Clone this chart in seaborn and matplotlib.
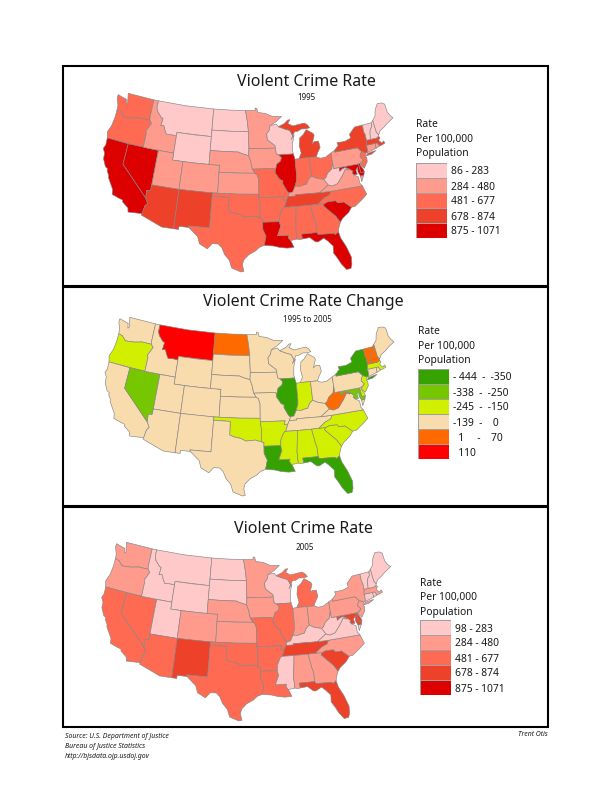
import numpy as np
import pandas as pd
import seaborn as sns
import matplotlib
matplotlib.use('Agg')
import matplotlib.pyplot as plt
from matplotlib.collections import PolyCollection
from matplotlib.colors import ListedColormap
from matplotlib.patches import Rectangle

# class index of each state, one list per map (0 = first legend row)
STATES = ['WA','OR','CA','NV','ID','MT','WY','UT','CO','AZ','NM','ND','SD','NE','KS','OK','TX',
          'MN','IA','MO','AR','LA','WI','IL','MI','IN','OH','KY','TN','MS','AL','GA','FL','SC',
          'NC','VA','WV','MD','DE','PA','NJ','NY','CT','RI','MA','VT','NH','ME']
RATE_1995 = [2,2,4,4,1,0,0,1,1,3,3,0,0,1,1,2,2,
             1,1,2,2,4,0,4,3,2,2,1,3,2,2,2,4,4,
             2,1,0,4,4,1,2,3,1,1,3,0,0,0]
CHANGE = [3,2,3,1,3,5,3,3,3,3,3,4,3,3,3,2,3,
          3,3,3,2,0,3,0,3,2,3,3,3,2,2,2,0,2,
          2,3,4,1,2,3,2,0,3,3,2,4,4,3]
RATE_2005 = [1,1,2,2,0,0,0,0,1,2,3,0,0,1,1,2,2,
             1,1,2,2,2,0,2,2,1,1,0,3,0,1,1,3,3,
             1,0,0,3,3,1,1,1,0,0,1,0,0,0]

RATE_COLORS = ['#ffc9c9', '#ff9b8c', '#ff6b52', '#ee412a', '#dc0000']
CHANGE_COLORS = ['#36a200', '#76c600', '#d2ef00', '#f9dcae', '#ff6a00', '#ff0000']
LABELS_1995 = ['86 - 283', '284 - 480', '481 - 677', '678 - 874', '875 - 1071']
LABELS_2005 = ['98 - 283', '284 - 480', '481 - 677', '678 - 874', '875 - 1071']
LABELS_CHANGE = ['- 444  -  -350', '-338  -  -250', '-245  -  -150', '-139  -    0',
                 '  1     -    70', '  110']

# base map: simplified state outlines in lon/lat (no shapefile available here)
OUTLINES = {
 'WA': [[(-124.7,48.4),(-123.2,48.15),(-122.75,48.1),(-122.5,47.4),(-122.3,47.6),(-122.5,48.3),(-122.75,49),(-117.03,49),(-117.04,46.42),(-116.92,45.99),(-118.98,46),(-119.3,45.93),(-120.5,45.7),(-121.2,45.65),(-122.3,45.55),(-122.8,45.9),(-123.2,46.15),(-124,46.27),(-124.1,46.9),(-124.7,47.9)]],
 'OR': [[(-124,46.27),(-123.2,46.15),(-122.8,45.9),(-122.3,45.55),(-121.2,45.65),(-120.5,45.7),(-119.3,45.93),(-118.98,46),(-116.92,45.99),(-116.46,45.6),(-116.85,44.95),(-117.22,44.4),(-117.03,44),(-117.03,42),(-124.21,42),(-124.55,42.84),(-124.1,43.9),(-123.95,45.2)]],
 'CA': [[(-124.21,42),(-120,42),(-120,39),(-114.63,35),(-114.13,34.3),(-114.5,33.9),(-114.72,32.72),(-117.12,32.53),(-117.3,33.1),(-118.4,33.75),(-118.5,34.03),(-119.2,34.15),(-120.5,34.45),(-120.65,35.15),(-121.9,36.6),(-122,36.95),(-122.5,37.5),(-122.5,37.8),(-123,38),(-123.75,39),(-123.85,39.8),(-124.35,40.4),(-124.1,41)]],
 'NV': [[(-120,42),(-114.04,42),(-114.04,36.2),(-114.75,36.1),(-114.63,35),(-120,39)]],
 'ID': [[(-117.03,49),(-116.05,49),(-116.05,48),(-115.7,47.45),(-114.7,46.7),(-114.35,46.65),(-114.5,45.55),(-113.9,45.65),(-113.45,44.95),(-113,44.45),(-112,44.55),(-111.05,44.48),(-111.05,42),(-117.03,42),(-117.03,44),(-117.22,44.4),(-116.85,44.95),(-116.46,45.6),(-116.92,45.99),(-117.04,46.42)]],
 'MT': [[(-116.05,49),(-110,49),(-104.05,49),(-104.05,45),(-111.05,45),(-111.05,44.48),(-112,44.55),(-113,44.45),(-113.45,44.95),(-113.9,45.65),(-114.5,45.55),(-114.35,46.65),(-114.7,46.7),(-115.7,47.45),(-116.05,48)]],
 'WY': [[(-111.05,45),(-107.5,45),(-104.05,45),(-104.05,41),(-107.5,41),(-111.05,41)]],
 'UT': [[(-114.04,42),(-111.05,42),(-111.05,41),(-109.05,41),(-109.05,37),(-114.04,37)]],
 'CO': [[(-109.05,41),(-105.5,41),(-102.05,41),(-102.05,37),(-105.5,37),(-109.05,37)]],
 'AZ': [[(-114.04,37),(-109.05,37),(-109.05,31.33),(-111.07,31.33),(-114.81,32.5),(-114.72,32.72),(-114.5,33.9),(-114.13,34.3),(-114.63,35),(-114.75,36.1),(-114.04,36.2)]],
 'NM': [[(-109.05,37),(-103,37),(-103.05,32),(-106.62,32),(-106.53,31.78),(-108.2,31.78),(-108.2,31.33),(-109.05,31.33)]],
 'ND': [[(-104.05,49),(-100.5,49),(-97.23,49),(-96.85,47.6),(-96.56,45.94),(-100.5,45.94),(-104.05,45.94)]],
 'SD': [[(-104.05,45.94),(-100.5,45.94),(-96.56,45.94),(-96.56,45.3),(-96.45,43.5),(-96.5,42.5),(-97.9,42.8),(-98.5,43),(-101.5,43),(-104.05,43)]],
 'NE': [[(-104.05,43),(-101.5,43),(-98.5,43),(-97.9,42.8),(-96.5,42.5),(-96.1,41.7),(-95.85,40.7),(-95.31,40),(-98.5,40),(-102.05,40),(-102.05,41),(-104.05,41)]],
 'KS': [[(-102.05,40),(-98.5,40),(-95.31,40),(-94.9,39.8),(-94.61,39.1),(-94.62,37),(-98.5,37),(-102.05,37)]],
 'OK': [[(-103,37),(-98.5,37),(-94.62,37),(-94.43,35.4),(-94.48,33.64),(-95.5,33.9),(-97.15,33.75),(-98.1,34.13),(-99.2,34.3),(-100,34.56),(-100,36.5),(-103,36.5)]],
 'TX': [[(-106.62,32),(-103.05,32),(-103,36.5),(-100,36.5),(-100,34.56),(-99.2,34.3),(-98.1,34.13),(-97.15,33.75),(-95.5,33.9),(-94.48,33.64),(-94.04,33.55),(-94.04,32),(-93.52,31),(-93.85,29.7),(-94.7,29.4),(-95.3,28.9),(-96.4,28.35),(-97.2,27.6),(-97.4,26.9),(-97.15,25.96),(-97.6,25.85),(-99.1,26.4),(-99.5,27.5),(-100.3,28.3),(-100.8,29.25),(-101.4,29.77),(-102.4,29.77),(-103.15,28.98),(-104.5,29.6),(-104.9,30.6),(-106.53,31.78)]],
 'MN': [[(-97.23,49),(-95.15,49),(-95.15,49.38),(-94.8,49.3),(-94.6,48.72),(-93,48.55),(-91.5,48.07),(-89.6,48),(-90.8,47.3),(-92.1,46.75),(-92.3,46.1),(-92.85,45.6),(-92.75,44.75),(-91.25,43.85),(-91.22,43.5),(-96.45,43.5),(-96.56,45.3),(-96.56,45.94),(-96.85,47.6)]],
 'IA': [[(-96.45,43.5),(-91.22,43.5),(-91.1,42.7),(-90.64,42.5),(-90.15,42.1),(-90.35,41.6),(-91.1,41.2),(-91.42,40.38),(-91.73,40.61),(-95.77,40.58),(-96.1,41.7),(-96.5,42.5)]],
 'MO': [[(-95.77,40.58),(-91.73,40.61),(-91.42,40.38),(-91.5,40),(-90.7,39),(-90.15,38.8),(-90.2,38.4),(-89.5,37.3),(-89.15,37),(-89.4,36.5),(-89.7,36),(-90.37,36),(-90.15,36.5),(-94.62,36.5),(-94.62,37),(-94.61,39.1),(-94.9,39.8),(-95.31,40)]],
 'AR': [[(-94.62,36.5),(-90.15,36.5),(-90.37,36),(-89.7,36),(-90.1,35.1),(-90.6,34.7),(-91.1,33.8),(-91.17,33),(-94.04,33),(-94.04,33.55),(-94.48,33.64),(-94.43,35.4)]],
 'LA': [[(-94.04,33),(-91.17,33),(-91,32.3),(-91.6,31),(-89.73,31),(-89.85,30.67),(-89.5,30.2),(-89.4,30.05),(-89,29.2),(-90.1,29.15),(-91.3,29.3),(-92.3,29.55),(-93.85,29.7),(-93.52,31),(-94.04,32)]],
 'WI': [[(-92.1,46.75),(-90.8,46.95),(-90.4,46.55),(-89.1,46.15),(-88.1,45.9),(-87.6,45.1),(-88,44.55),(-87.3,45.2),(-87.75,44.1),(-87.9,43),(-87.8,42.5),(-90.64,42.5),(-91.1,42.7),(-91.22,43.5),(-91.25,43.85),(-92.75,44.75),(-92.85,45.6),(-92.3,46.1)]],
 'IL': [[(-90.64,42.5),(-87.8,42.5),(-87.55,41.7),(-87.53,39.35),(-87.6,38.7),(-88.05,37.8),(-88.5,37.1),(-89.15,37),(-89.5,37.3),(-90.2,38.4),(-90.15,38.8),(-90.7,39),(-91.5,40),(-91.42,40.38),(-91.1,41.2),(-90.35,41.6),(-90.15,42.1)]],
 'MI': [[(-86.8,41.76),(-84.8,41.76),(-83.45,41.73),(-83.1,42.25),(-82.45,43),(-82.6,43.9),(-83.4,43.95),(-83.9,43.65),(-83.3,44.8),(-83.45,45.1),(-84.75,45.78),(-85.5,45.1),(-86.25,44.7),(-86.5,43.6),(-86.25,42.5)],
        [(-90.4,46.55),(-89.1,46.95),(-88.4,47.4),(-87.9,47.45),(-88.4,46.9),(-87.4,46.5),(-86.1,46.65),(-85,46.75),(-84.4,46.45),(-84,46),(-84.75,45.9),(-85.7,45.95),(-86.6,45.65),(-87.1,45.7),(-87.6,45.1),(-88.1,45.9),(-89.1,46.15)]],
 'IN': [[(-87.55,41.7),(-87.2,41.75),(-86.8,41.76),(-84.8,41.76),(-84.8,39.1),(-85.4,38.7),(-85.9,38),(-86.5,37.95),(-87.1,37.8),(-87.9,37.9),(-88.05,37.8),(-87.6,38.7),(-87.53,39.35)]],
 'OH': [[(-84.8,41.76),(-83.45,41.73),(-82.7,41.45),(-81.7,41.5),(-80.52,41.98),(-80.52,40.64),(-80.85,39.7),(-81.75,39.2),(-82.2,38.6),(-82.6,38.4),(-83.7,38.63),(-84.2,38.8),(-84.8,39.1)]],
 'KY': [[(-89.4,36.5),(-89.15,37),(-88.5,37.1),(-88.05,37.8),(-87.9,37.9),(-87.1,37.8),(-86.5,37.95),(-85.9,38),(-85.4,38.7),(-84.8,39.1),(-84.2,38.8),(-83.7,38.63),(-82.6,38.4),(-81.97,37.54),(-83.68,36.6),(-88.07,36.68),(-88.05,36.5)]],
 'TN': [[(-90.1,35.1),(-89.7,36),(-89.4,36.5),(-88.05,36.5),(-88.07,36.68),(-83.68,36.6),(-81.68,36.59),(-82,36.1),(-83.1,35.75),(-84.32,35),(-85.6,35),(-88.2,35),(-90.3,35)]],
 'MS': [[(-90.3,35),(-88.2,35),(-88.1,34.9),(-88.47,31.9),(-88.4,30.35),(-89.5,30.2),(-89.85,30.67),(-89.73,31),(-91.6,31),(-91,32.3),(-91.17,33),(-91.1,33.8),(-90.6,34.7)]],
 'AL': [[(-88.2,35),(-85.6,35),(-85.18,32.87),(-85,32.3),(-85,31),(-87.6,31),(-87.5,30.3),(-88,30.25),(-88.4,30.35),(-88.47,31.9),(-88.1,34.9)]],
 'GA': [[(-85.6,35),(-84.32,35),(-83.1,35),(-83.35,34.7),(-82.6,34),(-81.5,33),(-80.87,32.03),(-81.3,31.2),(-81.45,30.7),(-82.05,30.36),(-82.2,30.57),(-84.86,30.7),(-85,31),(-85,32.3),(-85.18,32.87)]],
 'FL': [[(-87.6,31),(-85,31),(-84.86,30.7),(-82.2,30.57),(-82.05,30.36),(-81.45,30.7),(-81.25,29.8),(-80.55,28.4),(-80.03,26.8),(-80.15,25.75),(-80.4,25.2),(-81.1,25.15),(-81.8,26.1),(-82.2,26.9),(-82.75,27.8),(-82.65,28.8),(-83.4,29.6),(-84,30.1),(-85,29.65),(-85.4,29.7),(-86.3,30.4),(-87.5,30.3)]],
 'SC': [[(-83.1,35),(-82.4,35.2),(-81.05,35.15),(-80.8,34.82),(-79.7,34.8),(-78.55,33.86),(-79.2,33.2),(-80.4,32.5),(-80.87,32.03),(-81.5,33),(-82.6,34),(-83.35,34.7)]],
 'NC': [[(-84.32,35),(-83.1,35.75),(-82,36.1),(-81.68,36.59),(-75.95,36.55),(-75.5,35.25),(-76.5,34.65),(-77.9,33.9),(-78.55,33.86),(-79.7,34.8),(-80.8,34.82),(-81.05,35.15),(-82.4,35.2),(-83.1,35)]],
 'VA': [[(-83.68,36.6),(-81.97,37.54),(-81.3,37.3),(-80.3,37.5),(-79.3,38.4),(-78.9,38.8),(-78.35,39.4),(-77.83,39.14),(-77.7,39.3),(-77.05,38.85),(-77.25,38.6),(-77,38.3),(-76.3,37.9),(-76.3,37),(-75.95,36.55),(-81.68,36.59)],
        [(-75.9,37.95),(-75.25,38.03),(-75.9,37.15)]],
 'WV': [[(-82.6,38.4),(-82.2,38.6),(-81.75,39.2),(-80.85,39.7),(-80.52,40.64),(-80.52,39.72),(-79.48,39.72),(-79.48,39.2),(-79,39.47),(-78.4,39.6),(-77.7,39.3),(-77.83,39.14),(-78.35,39.4),(-78.9,38.8),(-79.3,38.4),(-80.3,37.5),(-81.3,37.3),(-81.97,37.54)]],
 'MD': [[(-79.48,39.72),(-75.79,39.72),(-75.7,38.46),(-75.05,38.45),(-75.25,38.03),(-75.9,37.95),(-76.2,38.6),(-76.1,39.3),(-76.5,38.9),(-76.4,38.3),(-77,38.3),(-77.25,38.6),(-77.05,38.85),(-77.7,39.3),(-78.4,39.6),(-79,39.47),(-79.48,39.2)]],
 'DE': [[(-75.79,39.72),(-75.4,39.8),(-75.55,39.5),(-75.1,38.8),(-75.05,38.45),(-75.7,38.46)]],
 'PA': [[(-80.52,41.98),(-79.76,42.27),(-79.76,42),(-75.35,42),(-74.7,41.36),(-75.1,40.9),(-75.2,40.65),(-74.72,40.15),(-75.4,39.8),(-75.79,39.72),(-80.52,39.72),(-80.52,40.64)]],
 'NJ': [[(-74.7,41.36),(-73.95,41),(-74.2,40.5),(-74,40.4),(-74.1,39.75),(-74.9,38.95),(-75.5,39.5),(-74.72,40.15),(-75.2,40.65),(-75.1,40.9)]],
 'NY': [[(-79.76,42.27),(-78.9,42.85),(-79.05,43.27),(-77.5,43.25),(-76.2,43.55),(-76.3,44.1),(-75,44.98),(-73.35,45),(-73.4,44),(-73.25,43.6),(-73.27,42.75),(-73.5,42.05),(-73.5,41.3),(-73.65,41),(-73.95,41),(-74.7,41.36),(-75.35,42),(-79.76,42)],
        [(-74,40.6),(-73,40.65),(-72,41),(-72.5,41),(-73.7,40.87)]],
 'CT': [[(-73.5,42.05),(-71.8,42.02),(-71.85,41.32),(-73.65,41),(-73.5,41.3)]],
 'RI': [[(-71.8,42.02),(-71.38,42.02),(-71.12,41.5),(-71.85,41.32)]],
 'MA': [[(-73.5,42.05),(-73.27,42.75),(-72.46,42.73),(-71.3,42.7),(-70.82,42.87),(-70.6,42.65),(-71,42.3),(-70.65,41.95),(-70.55,41.8),(-70.1,42.05),(-69.95,41.7),(-70.65,41.55),(-71.12,41.5),(-71.38,42.02),(-71.8,42.02)]],
 'VT': [[(-73.35,45),(-71.5,45.01),(-71.55,44.5),(-72.05,44.1),(-72.3,43.5),(-72.46,42.73),(-73.27,42.75),(-73.25,43.6),(-73.4,44)]],
 'NH': [[(-71.5,45.01),(-71.08,45.3),(-71,43.5),(-70.7,43.07),(-70.82,42.87),(-71.3,42.7),(-72.46,42.73),(-72.3,43.5),(-72.05,44.1),(-71.55,44.5)]],
 'ME': [[(-71.08,45.3),(-70.4,45.8),(-70.25,46.2),(-70,46.7),(-69.23,47.46),(-68.35,47.36),(-67.8,47.07),(-67.78,45.9),(-67.45,45.3),(-67,44.85),(-68.5,44.3),(-69.2,43.95),(-70.2,43.6),(-70.7,43.07),(-71,43.5)]],
}

W, H = 612, 792
LINE = '#858585'
sns.set_theme(style='white')
plt.rcParams['font.family'] = ['Noto Sans', 'DejaVu Sans']


def albers(points, lon0=-96.0, lat0=37.5, p1=29.5, p2=45.5):
    lon, lat = np.radians(np.array(points)).T
    p1, p2, lat0, lon0 = np.radians([p1, p2, lat0, lon0])
    n = (np.sin(p1) + np.sin(p2)) / 2
    c = np.cos(p1) ** 2 + 2 * n * np.sin(p1)
    rho = np.sqrt(c - 2 * n * np.sin(lat)) / n
    rho0 = np.sqrt(c - 2 * n * np.sin(lat0)) / n
    theta = n * (lon - lon0)
    return np.column_stack([rho * np.sin(theta), rho0 - rho * np.cos(theta)])


def add_axes_px(fig, x0, y0, x1, y1):
    return fig.add_axes([x0 / W, 1 - y1 / H, (x1 - x0) / W, (y1 - y0) / H])


def text_px(fig, x, y, s, **kw):
    kw.setdefault('va', 'center')
    kw.setdefault('color', '#1a1a1a')
    fig.text(x / W, 1 - y / H, s, **kw)


def draw_map(fig, classes, colors, box):
    df = pd.DataFrame({'state': STATES, 'cls': classes})
    verts, faces = [], []
    for row in df.itertuples():
        for ring in OUTLINES[row.state]:
            verts.append(albers(ring))
            faces.append(colors[row.cls])
    ax = add_axes_px(fig, *box)
    ax.add_collection(PolyCollection(verts, facecolors=faces, edgecolors=LINE, linewidths=0.45))
    allpts = np.vstack(verts)
    ax.set_xlim(allpts[:, 0].min(), allpts[:, 0].max())
    ax.set_ylim(allpts[:, 1].min(), allpts[:, 1].max())
    ax.axis('off')
    for c in ax.collections:
        c.set_clip_on(False)


def draw_legend(fig, labels, colors, x, y_text, y_swatch):
    for i, s in enumerate(['Rate', 'Per 100,000', 'Population']):
        text_px(fig, x, y_text + i * 14.6, s, fontsize=7.4, ha='left')
    n = len(labels)
    ax = add_axes_px(fig, x, y_swatch, x + 30.5, y_swatch + 15 * n)
    sns.heatmap(np.arange(n).reshape(-1, 1), cmap=ListedColormap(colors), cbar=False,
                linewidths=0.4, linecolor='#a0a0a0', xticklabels=False,
                yticklabels=labels, ax=ax)
    ax.yaxis.tick_right()
    ax.tick_params(axis='y', length=0, pad=3.5, labelsize=7.4, labelrotation=0, labelcolor='#1a1a1a')


fig = plt.figure(figsize=(W / 100, H / 100), dpi=100)

# panel frames
for y0, y1 in [(66, 286), (287, 506), (507, 727)]:
    fig.add_artist(Rectangle((62.5 / W, 1 - y1 / H), 485.5 / W, (y1 - y0) / H, transform=fig.transFigure,
                             fill=False, edgecolor='black', linewidth=1.5))

draw_map(fig, RATE_1995, RATE_COLORS, (103.3, 93.3, 393, 272))
draw_map(fig, CHANGE, CHANGE_COLORS, (105, 317.3, 394, 496))
draw_map(fig, RATE_2005, RATE_COLORS, (101.7, 542.3, 390.5, 721))

text_px(fig, 306, 82, 'Violent Crime Rate', fontsize=11.5, ha='center')
text_px(fig, 306, 97, '1995', fontsize=5.8, ha='center')
text_px(fig, 303, 302, 'Violent Crime Rate Change', fontsize=11.5, ha='center')
text_px(fig, 307, 320, '1995 to 2005', fontsize=5.8, ha='center')
text_px(fig, 303, 529, 'Violent Crime Rate', fontsize=11.5, ha='center')
text_px(fig, 305, 547, '2005', fontsize=5.8, ha='center')

draw_legend(fig, LABELS_1995, RATE_COLORS, 416, 124.5, 163)
draw_legend(fig, LABELS_CHANGE, CHANGE_COLORS, 418, 331.5, 369)
draw_legend(fig, LABELS_2005, RATE_COLORS, 420, 583, 620)

for i, s in enumerate(['Source: U.S. Department of Justice', 'Bureau of Justice Statistics',
                       'http://bjsdata.ojp.usdoj.gov']):
    text_px(fig, 65, 736 + i * 10, s, fontsize=5, style='italic', ha='left')
text_px(fig, 548, 735, 'Trent Otis', fontsize=5, style='italic', ha='right')

fig.savefig('out.png', dpi=100)
